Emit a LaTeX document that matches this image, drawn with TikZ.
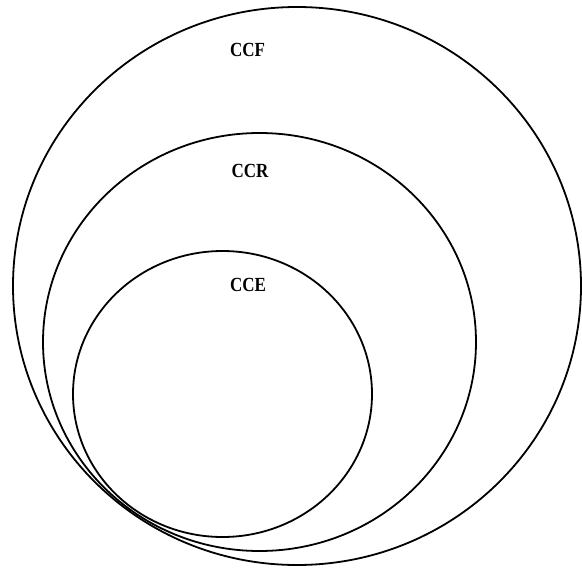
\documentclass[tikz,border=0pt]{standalone}
\usepackage{fontspec}
\setmainfont{Liberation Serif}[FakeStretch=0.85]
\begin{document}
\begin{tikzpicture}[x=1pt,y=-1pt,
  ring/.style={draw=black,line width=1.8pt},
  lbl/.style={font=\fontsize{20}{22}\selectfont\bfseries,anchor=base,inner sep=0pt}]
\useasboundingbox (0,0) rectangle (582,568);
\draw[ring] (297,286) ellipse [x radius=284, y radius=279];
\draw[ring] (259.5,342) ellipse [x radius=216.5, y radius=209];
\draw[ring] (222.5,394) ellipse [x radius=149.5, y radius=143];
\node[lbl] (ccf) at (247.5,56) {CCF};
\node[lbl] (ccr) at (250,177) {CCR};
\node[lbl] (cce) at (248,291.5) {CCE};
\end{tikzpicture}
\end{document}
